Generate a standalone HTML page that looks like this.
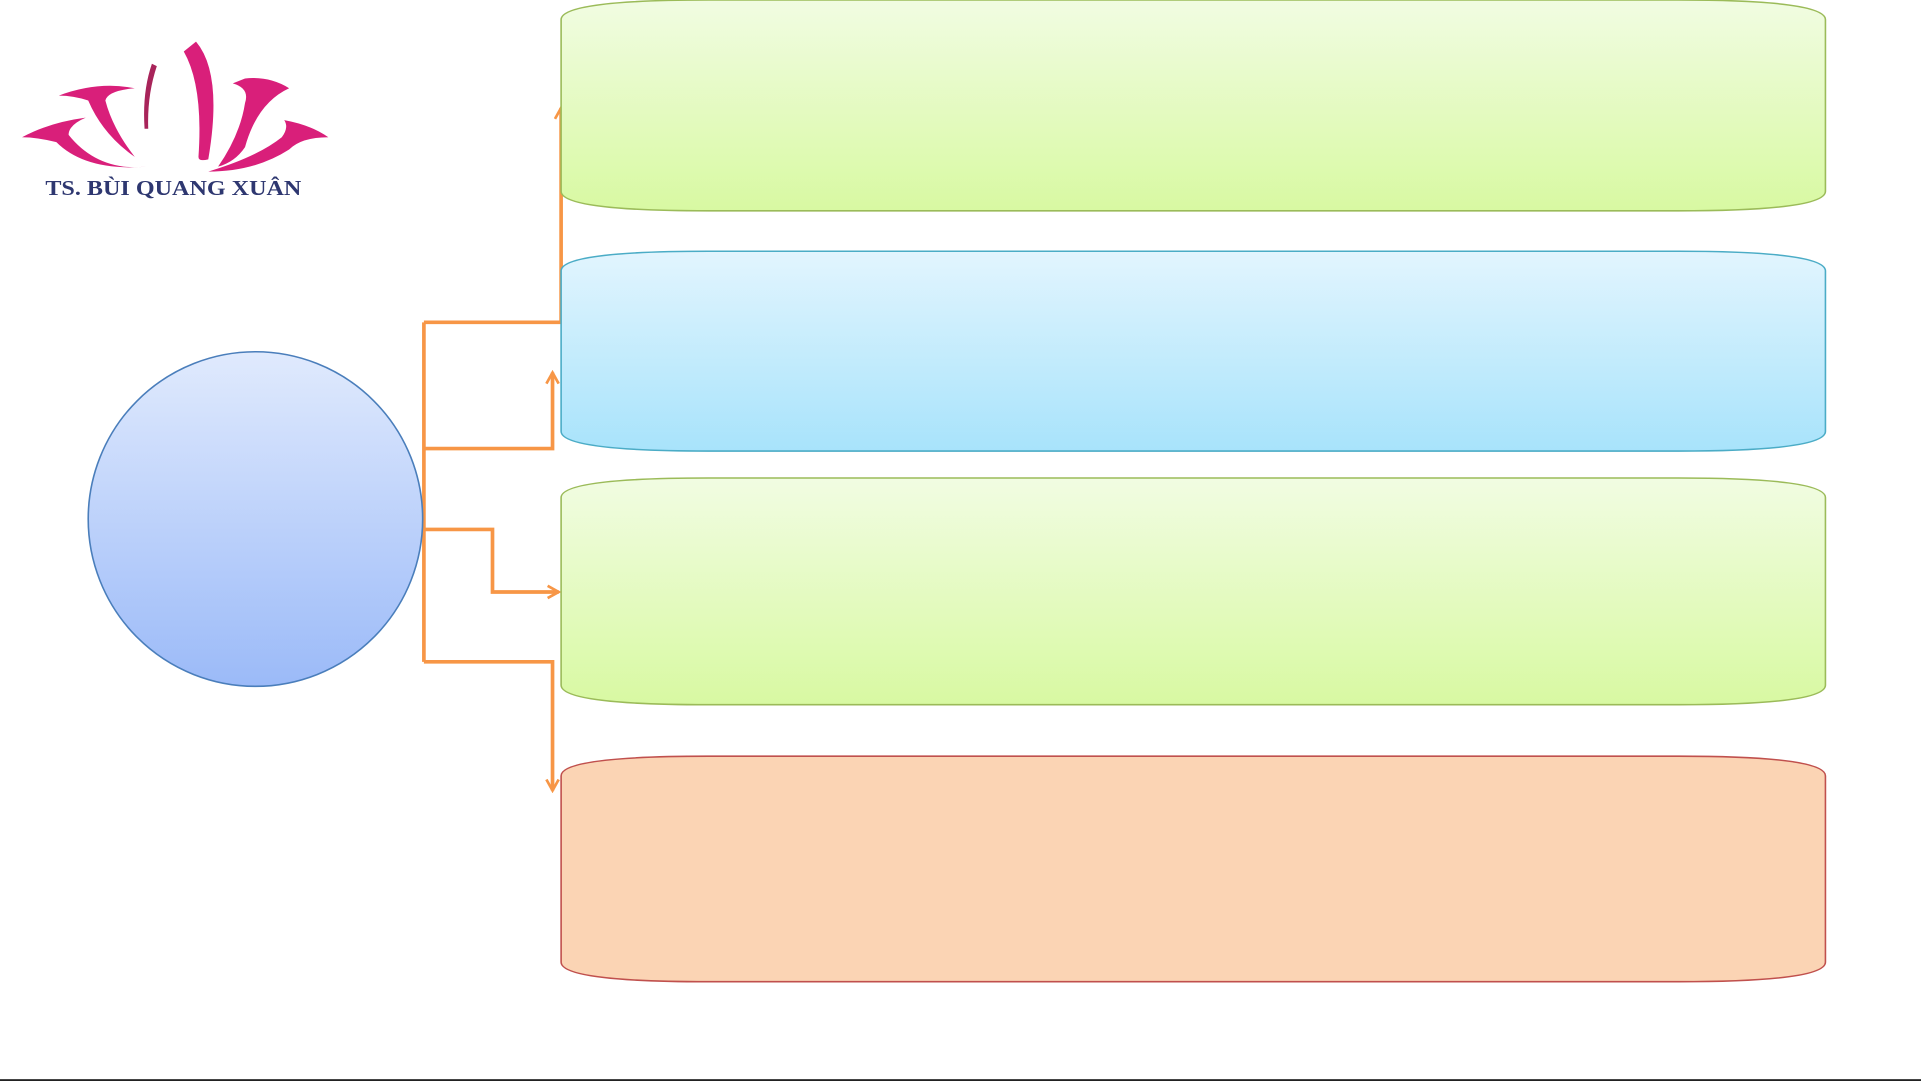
<!DOCTYPE html>
<html><head><meta charset="utf-8">
<style>
html,body{margin:0;padding:0;background:#fff;}
svg{display:block;}
</style></head>
<body>
<svg width="1921" height="1081" viewBox="0 0 1568 882" preserveAspectRatio="none" xmlns="http://www.w3.org/2000/svg">
<defs>
<linearGradient id="g1" x1="0" y1="0" x2="0" y2="1"><stop offset="0" stop-color="#f1fce2"/><stop offset="1" stop-color="#d8f9a2"/></linearGradient>
<linearGradient id="g2" x1="0" y1="0" x2="0" y2="1"><stop offset="0" stop-color="#e2f5fe"/><stop offset="1" stop-color="#a8e3fb"/></linearGradient>
<linearGradient id="gc" x1="0" y1="0" x2="0" y2="1"><stop offset="0" stop-color="#e0eafd"/><stop offset="1" stop-color="#9bbaf8"/></linearGradient>
<marker id="ar" viewBox="0 0 12 12" refX="10" refY="6" markerWidth="12" markerHeight="12" markerUnits="userSpaceOnUse" orient="auto">
<path d="M1,1 L10,6 L1,11" fill="none" stroke="#f79646" stroke-width="2.2"/></marker>
</defs>

<g fill="none" stroke="#f79646" stroke-width="3">
<path d="M346,263 V540"/>
<path d="M346,263 H458 V88" marker-end="url(#ar)"/>
<path d="M346,366 H451 V304" marker-end="url(#ar)"/>
<path d="M346,432 H402 V483 H456" marker-end="url(#ar)"/>
<path d="M346,540 H451 V645" marker-end="url(#ar)"/>
</g>

<path d="M458,16 Q458,0 578,0 H1370 Q1490,0 1490,16 V156 Q1490,172 1370,172 H578 Q458,172 458,156 Z" fill="url(#g1)" stroke="#9bbb59" stroke-width="1.3"/>
<path d="M458,221 Q458,205 578,205 H1370 Q1490,205 1490,221 V352 Q1490,368 1370,368 H578 Q458,368 458,352 Z" fill="url(#g2)" stroke="#4bacc6" stroke-width="1.3"/>
<path d="M458,406 Q458,390 578,390 H1370 Q1490,390 1490,406 V559 Q1490,575 1370,575 H578 Q458,575 458,559 Z" fill="url(#g1)" stroke="#9bbb59" stroke-width="1.3"/>
<path d="M458,633 Q458,617 578,617 H1370 Q1490,617 1490,633 V785 Q1490,801 1370,801 H578 Q458,801 458,785 Z" fill="#fbd4b4" stroke="#c0504d" stroke-width="1.3"/>

<circle cx="208.5" cy="423.5" r="136.5" fill="url(#gc)" stroke="#4a7ebb" stroke-width="1.3"/>

<g fill="#d91f7a">
<path d="M160,34 Q182,60 170,130 Q162,132 162,128 Q166,70 150,42 Z"/>
<path d="M124,52 Q116,75 118,105 L121,105 Q120,78 128,54 Z" fill="#a8245a"/>
<path d="M48,78 Q80,66 110,72 Q88,74 86,82 Q92,105 110,128 Q84,110 72,82 Q60,78 48,78 Z"/>
<path d="M200,64 Q220,62 236,72 Q210,84 200,120 Q192,132 178,136 Q196,110 200,84 Q204,72 190,68 Z"/>
<path d="M18,112 Q40,100 70,96 Q56,102 56,110 Q80,140 120,136 Q70,140 46,116 Q30,112 18,112 Z"/>
<path d="M232,98 Q254,102 268,112 Q246,112 236,122 Q208,140 170,140 Q210,128 230,112 Q236,104 232,98 Z"/>
</g>
<text x="37" y="159" font-family="Liberation Serif, serif" font-weight="bold" font-size="17" fill="#2e3770" textLength="209" lengthAdjust="spacingAndGlyphs">TS. BÙI QUANG XUÂN</text>

<rect x="0" y="880.5" width="1568" height="1.5" fill="#222"/>
</svg>
</body></html>
